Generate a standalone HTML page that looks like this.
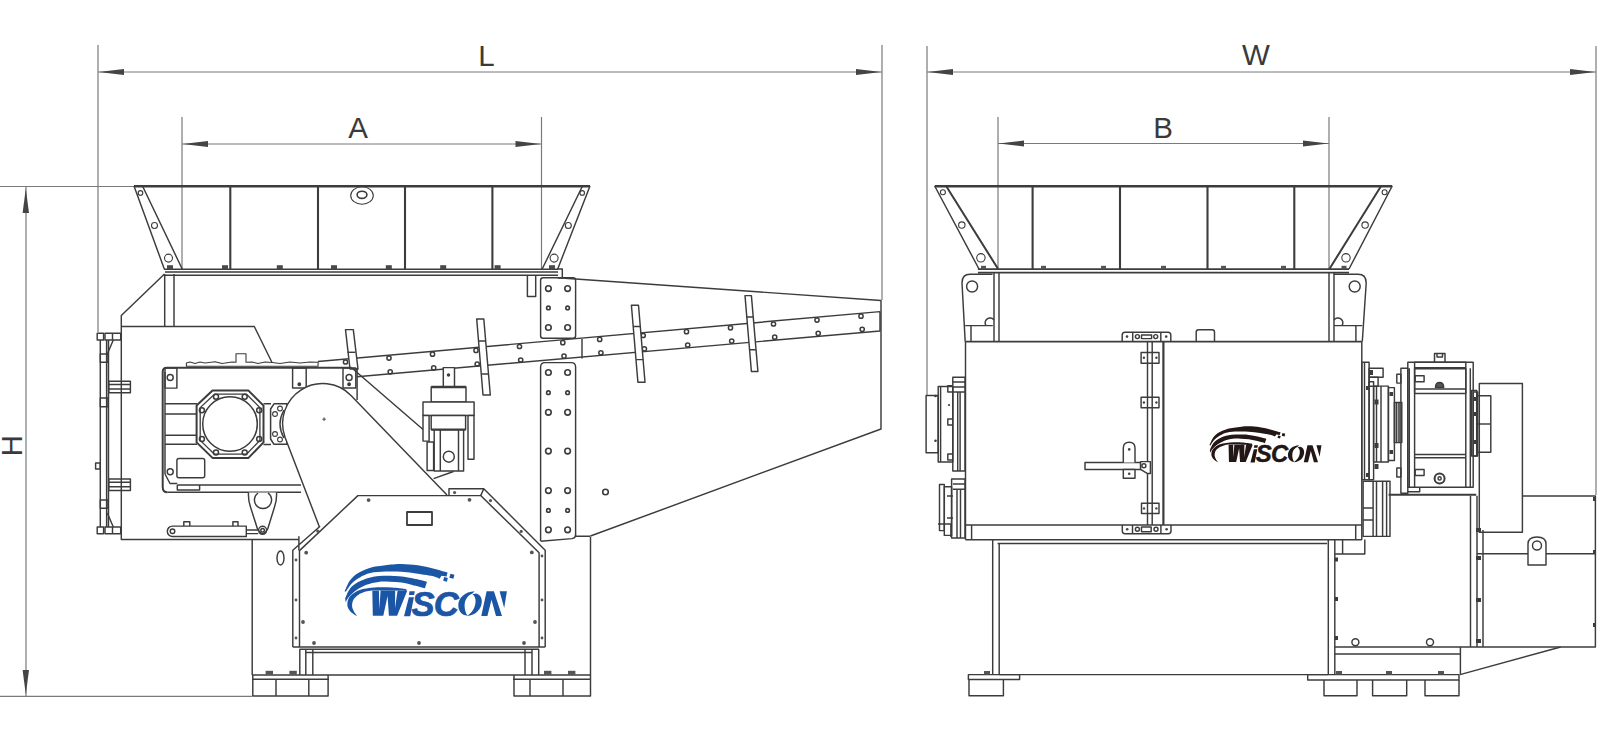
<!DOCTYPE html>
<html><head><meta charset="utf-8"><style>
html,body{margin:0;padding:0;background:#fff;width:1600px;height:740px;overflow:hidden}
svg{display:block}
text{font-family:"Liberation Sans",sans-serif}
</style></head><body>
<svg width="1600" height="740" viewBox="0 0 1600 740">
<defs>
<g id="logo">
<path d="M344.6 591.5C345.5 589.6 347.8 583.4 350.1 580.3C352.4 577.2 354.8 575.1 358.2 573.0C361.6 570.9 366.8 568.9 370.4 567.7C374.0 566.6 376.6 566.6 380.0 566.1C383.4 565.6 387.2 564.9 390.8 564.5C394.4 564.1 397.1 563.8 401.6 563.9C406.1 564.0 412.4 564.5 417.8 565.3C423.2 566.1 429.0 567.6 434.0 568.8C439.0 570.0 445.3 572.0 447.6 572.6L446.5 576.5L441.5 575.8L439.5 578.8C438.6 578.4 437.6 577.2 434.0 576.4C430.4 575.5 423.2 574.5 417.8 573.7C412.4 572.9 407.0 572.2 401.6 571.8C396.2 571.4 390.6 571.3 385.4 571.5C380.2 571.7 374.7 572.0 370.4 573.0C366.1 574.0 362.9 575.6 359.8 577.4C356.7 579.1 354.0 581.1 351.7 583.5C349.4 585.9 346.9 590.2 346.0 591.6Z"/>
<path d="M345.2 598.1C346.0 596.5 347.9 591.1 350.1 588.4C352.3 585.7 354.8 583.7 358.2 581.9C361.6 580.1 366.3 578.4 370.4 577.4C374.5 576.4 378.7 576.0 382.6 575.8C386.5 575.5 390.8 575.8 394.0 575.9C397.2 576.0 398.5 576.0 401.6 576.4C404.7 576.8 408.2 577.4 412.4 578.3C416.6 579.2 424.6 581.2 427.0 581.8L424.9 588.3C422.8 587.8 416.3 586.0 412.4 585.0C408.5 584.0 405.3 583.1 401.6 582.6C397.9 582.1 393.9 581.9 390.0 581.8C386.1 581.7 382.4 581.4 378.5 581.9C374.6 582.4 369.9 583.4 366.3 584.7C362.7 586.1 359.4 588.0 356.6 590.0C353.8 592.0 351.1 594.5 349.3 596.5C347.5 598.5 346.2 601.2 345.6 602.2Z"/>
<path d="M357.6 616.3C356.6 615.7 353.4 614.2 351.7 612.7C350.0 611.2 348.3 609.2 347.7 607.0C347.1 604.8 347.3 601.9 348.1 599.7C348.9 597.6 350.6 595.7 352.5 594.1C354.4 592.5 357.1 591.0 359.8 590.0C362.5 589.0 365.4 588.5 368.8 588.0C372.2 587.5 376.1 587.3 380.0 587.2C383.9 587.1 387.6 587.2 392.0 587.5C396.4 587.8 404.1 588.9 406.5 589.2L406 591C403.7 590.9 396.3 590.7 392.0 590.6C387.7 590.5 383.3 590.4 380.0 590.4C376.7 590.4 374.4 590.2 372.0 590.4C369.6 590.6 367.8 590.9 365.5 591.6C363.2 592.4 360.2 593.5 358.2 594.9C356.2 596.2 354.4 597.8 353.4 599.7C352.4 601.6 352.0 604.2 352.1 606.2C352.2 608.2 353.3 610.2 354.2 611.9C355.1 613.6 357.0 615.6 357.6 616.3Z"/>
<rect x="443.6" y="577.5" width="3.8" height="3.7" transform="rotate(15 445.5 579.3)"/><rect x="449.8" y="574.2" width="4.2" height="4.2" transform="rotate(15 451.9 576.3)"/>
<path d="M372.3 590.5H378.9L379.4 609.3L380.6 590.5H395.2L395 608.3L397.6 590.5H407.3L397.1 615.8H388.9L387.6 595.9L383.3 615.8H372.8Z"/>
<path d="M409.6 591.2H414.8L414.1 595H408.9ZM408.9 597.3H413.9L410.2 616.2H404Z"/>
<text x="411.6 433.8" y="616" font-size="34.6" font-weight="bold" font-style="italic" stroke-width="0.7">SC</text>
<path d="M474.5 591.2C465 591.5 458.2 598 458.3 605.5C458.4 611 461.5 615 467.5 615.8C465.6 613 464.4 609 464.6 605C464.8 600 467.5 595.5 472.8 593.3Z"/>
<path d="M476.3 593.4C480 594.5 482 597.5 481.8 601.8C481.5 609 476 615.5 466.8 616C470 614 474.2 610.5 475.4 603.5C476.2 598.5 474.5 595.5 472.2 594.2Z"/>
<path d="M481.3 616L486.6 591.2H493.9L502 616H496L491.5 599.8L487.4 616ZM499.6 591.2H506.9L504.2 607.9Z"/>
</g>
</defs>
<rect width="1600" height="740" fill="#fff"/>
<!-- DIMENSIONS -->
<g id="dims" stroke="#7a7a7a" stroke-width="1.2" fill="none">
<path d="M98 45V332M882 45V300M98 72H882"/>
<path d="M182 117V269M541.5 117V269M182 144H541.5"/>
<path d="M0 186.5H134M26 186V696.3M0 696.3H252"/>
<path d="M927 46V395.5M1596 46V495M927 72H1596"/>
<path d="M998 117V270M1329 117V270M998 143.5H1329"/>
</g>
<g id="arrows" fill="#444">
<path d="M98.5 72L124 69V75Z"/><path d="M881.5 72L856 69V75Z"/>
<path d="M182.5 144L208 141V147Z"/><path d="M541 144L515.5 141V147Z"/>
<path d="M25.8 188.5L22.6 213H29Z"/><path d="M25.8 694.5L22.6 670H29Z"/>
<path d="M927.5 72L953 69V75Z"/><path d="M1595.5 72L1570 69V75Z"/>
<path d="M998.5 143.5L1024 140.5V146.5Z"/><path d="M1328.5 143.5L1303 140.5V146.5Z"/>
</g>
<g id="labels" fill="#3a3a3a" font-size="29.5">
<text x="486.5" y="65.6" text-anchor="middle">L</text>
<text x="358" y="137.6" text-anchor="middle">A</text>
<text x="1256" y="64.8" text-anchor="middle">W</text>
<text x="1163" y="137.6" text-anchor="middle">B</text>
<text transform="translate(22 445.8) rotate(-90)" text-anchor="middle">H</text>
</g>

<!-- LEFT MACHINE -->
<g id="left" stroke="#3c3c3c" stroke-width="1.45" fill="none" stroke-linejoin="round">
<!-- hopper -->
<path d="M134 186.3H590" stroke-width="2.4"/>
<path d="M134 186L164.3 269M142.5 186L182.2 269M590 186L557.7 269M582.5 186L542.2 269"/>
<path d="M230.3 186V269M318 186V269M405 186V269M492.4 186V269" stroke-width="2.1"/>
<path d="M164 269.2H558M165 272H558M165 275.3H558" stroke-width="1.5"/>
<path d="M557.7 269H562.3V278H557.7"/>
<g stroke-width="1.1"><circle cx="140.5" cy="192.9" r="2.3"/><circle cx="154.5" cy="225.5" r="3"/><circle cx="168.5" cy="258.1" r="4"/>
<circle cx="582.2" cy="192.9" r="2.3"/><circle cx="568.3" cy="225.5" r="3"/><circle cx="554.1" cy="258.1" r="4"/>
<ellipse cx="362" cy="195.5" rx="11.3" ry="8.7"/><ellipse cx="362" cy="194.8" rx="4.9" ry="3.6" stroke-width="1.6"/></g>
<g fill="#4a4a4a" stroke="none"><rect x="167.0" y="265.2" width="6" height="4"/><rect x="222.0" y="265.2" width="6" height="4"/><rect x="276.8" y="265.2" width="6" height="4"/><rect x="331.0" y="265.2" width="6" height="4"/><rect x="385.8" y="265.2" width="6" height="4"/><rect x="440.2" y="265.2" width="6" height="4"/><rect x="494.6" y="265.2" width="6" height="4"/><rect x="549.0" y="265.2" width="6" height="4"/></g>
<!-- body outline -->
<path d="M164.5 274L121.3 315.5V539.5H298.5"/>
<path d="M164.7 274V326.5M174 274V326.5M121.3 326.5H254.3L272 362.5"/>
<path d="M527.4 275V296.4H535.7V275"/>
<path d="M561.5 278L881 300.5V429L590.5 536"/>
<!-- bolt plates -->
<rect x="540.6" y="277.8" width="35" height="60.5" rx="2.5"/>
<path d="M540.6 541V367Q540.6 362.6 545 362.6H571.2Q575.6 362.6 575.6 367V535"/>
<g stroke-width="1.6">
<circle cx="548.4" cy="288.6" r="2.8"/><circle cx="567.6" cy="288.6" r="2.8"/><circle cx="548.4" cy="307.9" r="1.8"/><circle cx="567.6" cy="307.9" r="1.8"/><circle cx="548.4" cy="327.5" r="2.8"/><circle cx="567.6" cy="327.5" r="2.8"/>
<circle cx="548.4" cy="372.5" r="2.8"/><circle cx="567.6" cy="372.5" r="2.8"/><circle cx="548.4" cy="392.7" r="1.8"/><circle cx="567.6" cy="392.7" r="1.8"/><circle cx="548.4" cy="412.3" r="2.8"/><circle cx="567.6" cy="412.3" r="2.8"/>
<circle cx="548.4" cy="451.1" r="2.8"/><circle cx="567.6" cy="451.1" r="2.8"/>
<circle cx="548.4" cy="490.6" r="2.8"/><circle cx="567.6" cy="490.6" r="2.8"/><circle cx="548.4" cy="510.4" r="1.8"/><circle cx="567.6" cy="510.4" r="1.8"/><circle cx="548.4" cy="529.8" r="2.8"/><circle cx="567.6" cy="529.8" r="2.8"/>
<circle cx="605.5" cy="492" r="2.8"/>
</g>
<path d="M540.6 541.2L572 538.6Q575.6 538.2 575.6 534.5M575.6 536.2H590.5"/>
<!-- beam -->
<path d="M318 361.5L880 311.6M357 376.7L880 331V311.6"/>
<g stroke-width="1.5"><circle cx="345.5" cy="362.0" r="2.1"/><circle cx="389.0" cy="358.1" r="2.1"/><circle cx="390.2" cy="371.8" r="2.1"/><circle cx="432.5" cy="354.2" r="2.1"/><circle cx="433.7" cy="367.9" r="2.1"/><circle cx="476.0" cy="350.4" r="2.1"/><circle cx="477.2" cy="364.0" r="2.1"/><circle cx="519.5" cy="346.5" r="2.1"/><circle cx="520.7" cy="360.0" r="2.1"/><circle cx="562.8" cy="342.7" r="2.1"/><circle cx="564.0" cy="356.1" r="2.1"/><circle cx="599.7" cy="339.4" r="2.1"/><circle cx="600.9" cy="352.8" r="2.1"/><circle cx="643.2" cy="335.5" r="2.1"/><circle cx="644.4" cy="348.9" r="2.1"/><circle cx="686.5" cy="331.7" r="2.1"/><circle cx="687.7" cy="345.0" r="2.1"/><circle cx="730.5" cy="327.8" r="2.1"/><circle cx="731.7" cy="341.1" r="2.1"/><circle cx="773.5" cy="324.0" r="2.1"/><circle cx="774.7" cy="337.2" r="2.1"/><circle cx="817.0" cy="320.1" r="2.1"/><circle cx="818.2" cy="333.3" r="2.1"/><circle cx="861.0" cy="316.2" r="2.1"/><circle cx="862.2" cy="329.3" r="2.1"/></g>
<path d="M582 339V358.5"/>
<!-- paddles -->
<path d="M345.5 329.6H353.3L358 369H350Z" fill="#fff"/><path d="M347.5 352.3H355.3"/>
<path d="M476.7 319H483.8L490.3 395H483Z" fill="#fff"/><path d="M478.6 341H485.7M481.4 374H488.5"/>
<path d="M631.4 305.3H638.5L645 382.2H637.9Z" fill="#fff"/><path d="M633.4 326.5H640.5M636.2 359.6H643.3"/>
<path d="M745 295.6H751.4L757.9 371.5H751.4Z" fill="#fff"/><path d="M746.7 317H753.1M749.4 349.7H755.8"/>

<!-- gearbox -->
<path d="M186.4 366.2V363L190 362L195 363.5L200 362L205 363L215 361.8L222 363.5L232 362L236 362.3V353.7H246V362.3L252 362L258 363.5L265 362L272 362.5L280 363.5L290 362L300 363L310 362L318.1 362.3V366.2Z" stroke-width="1.1"/>
<path d="M167.5 492.3Q162.7 492.3 162.7 487V372Q162.7 367.8 167 367.8H351.6" stroke-width="2"/>
<path d="M165 372V474M167.5 492.3H301M177.3 484.9H301"/>
<rect x="165" y="368" width="11.9" height="20.1"/><circle cx="170.2" cy="377.4" r="3"/>
<rect x="292.6" y="368" width="13.6" height="19.9"/><circle cx="299.3" cy="384.2" r="1.2" fill="#444"/>
<rect x="343" y="368" width="12.8" height="19.9"/><circle cx="349.1" cy="377.5" r="3"/><circle cx="349.1" cy="384.2" r="1.2" fill="#444"/>
<path d="M165 403.8H197M165 414H197M165 435.2H197M165 444.3H197"/>
<path d="M212.5 390.6H248.5L263.5 405.6V442.4L248.5 457.9H212.5L196.6 442.4V405.6Z" stroke-width="2"/>
<path d="M214.5 394.2H246.5L259.9 407.6V440.4L246.5 454.2H214.5L200.2 440.4V407.6Z" stroke-width="1.3"/>
<circle cx="230" cy="424" r="27.3" stroke-width="1.5"/>
<g stroke-width="1.5"><circle cx="216" cy="396.7" r="2.5"/><circle cx="244.7" cy="396.7" r="2.5"/><circle cx="259.2" cy="410.3" r="2.5"/><circle cx="259.2" cy="439" r="2.5"/><circle cx="244.7" cy="452.5" r="2.5"/><circle cx="216" cy="452.5" r="2.5"/><circle cx="201.9" cy="439" r="2.5"/><circle cx="201.9" cy="410.3" r="2.5"/></g><path d="M263.5 403.8H271M263.5 444.5H271"/>
<path d="M274 403.8H287V444.3H274L270.6 439V409Z" stroke-width="1.5"/>
<path d="M284 410Q276 424 284 438"/>
<g stroke-width="1.1"><circle cx="280" cy="408.5" r="2.4"/><circle cx="275" cy="414" r="2.4"/><circle cx="275" cy="434" r="2.4"/><circle cx="280" cy="439.5" r="2.4"/></g>
<rect x="176.9" y="458.5" width="27.8" height="19.3" rx="2"/><circle cx="170.2" cy="471.7" r="3"/>
<path d="M177.3 484.9V490H199.6V484.9"/>
<path d="M165 474L170 483.5H177.3"/>
<!-- lever & cylinder -->
<path d="M248.5 492.5Q248 500 250.5 507L257.5 529Q262.6 538 267.7 529L274.5 507Q277 500 276.5 492.5" fill="#fff"/>
<path d="M258 493A8.6 8.6 0 1 0 268 493"/><circle cx="262.6" cy="530.3" r="4"/><circle cx="262.6" cy="530.3" r="1.8"/>
<path d="M177.9 526.1H246.3V536.5H177.9M246.3 530H258.2M246.3 533.6H258.2"/>
<path d="M177.9 526.1H172.5A5.2 5.2 0 0 0 172.5 536.5H177.9"/><circle cx="172.5" cy="531.2" r="2.3"/>
<path d="M183.8 526V521.7H189.8V526M232.9 526V521.7H238V526"/>
<!-- frame diagonal -->
<path d="M351.6 367.8L427.1 433M357.1 368V400"/>
<!-- pump -->
<g fill="#fff">
<path d="M443.3 387V367.6H454.5V387"/>
<rect x="431.2" y="387" width="34.8" height="15"/>
<rect x="423" y="402" width="51.1" height="13.4"/>
<rect x="431.2" y="415.4" width="34.4" height="14.2"/>
<rect x="423" y="415.4" width="6.1" height="25.7"/>
<rect x="468" y="415.4" width="6" height="43.9"/>
<rect x="434.2" y="429.6" width="29.4" height="41.3"/>
<rect x="427.1" y="442" width="6.5" height="28.5"/>
</g>
<path d="M431.2 387H466M431.2 429.6H465.6" stroke-width="2.4"/>
<path d="M440.3 429.6V470.9M458.5 429.6V470.9M433.6 478.6L453.5 471.5"/>
<circle cx="448.8" cy="456.7" r="5.5"/>
<circle cx="448.5" cy="375" r="1" fill="#444"/>

<!-- arm -->
<path d="M320.1 528.7L285 437.2A40 40 0 0 1 351 395.4L447 495L357.9 495.6Z" fill="#fff" stroke="none"/>
<path d="M320.1 528.7L285 437.2A40 40 0 0 1 351 395.4L447 495"/>
<path d="M322.3 419.2h3.6M324.1 417.4v3.6" stroke-width="0.9"/>
<!-- cover -->
<path d="M292.8 647V550.3L320.1 526.2L357.9 495.6H449V488.8H483.8L545.2 550.2V647Z" fill="#fff" stroke="none"/>
<path d="M299.5 647V550.6L357.9 495.6H480.7L539.1 552.7V647"/>
<path d="M292.8 647V550.3L320.1 526.2M298.9 536.2V550.6"/>
<path d="M449 495.6V488.8H483.8L545.2 550.2V647M480.7 495.6L483.8 488.8"/>
<path d="M292.8 647H545.2M299.5 649.3H539"/>
<rect x="407" y="512" width="25" height="13" stroke-width="1.8"/>
<g fill="#555" stroke="none">
<circle cx="368.6" cy="500.1" r="1.9"/><circle cx="469.5" cy="499.8" r="1.9"/><circle cx="454.6" cy="492.5" r="1.6"/><circle cx="490.5" cy="500.6" r="1.6"/><circle cx="521.2" cy="531.4" r="1.6"/><circle cx="531.8" cy="552.4" r="1.9"/>
<circle cx="306.2" cy="552.7" r="1.9"/><circle cx="317.7" cy="531.1" r="1.6"/>
<circle cx="296" cy="560" r="1.4"/><circle cx="296" cy="600" r="1.4"/><circle cx="296" cy="638" r="1.4"/>
<circle cx="303" cy="622" r="1.9"/><circle cx="314" cy="643" r="1.9"/><circle cx="419" cy="643" r="1.9"/><circle cx="524" cy="643" r="1.9"/><circle cx="535" cy="622" r="1.9"/>
<circle cx="542" cy="556" r="1.4"/><circle cx="542" cy="600" r="1.4"/><circle cx="542" cy="638" r="1.4"/>
</g>
<!-- base left machine -->
<path d="M252.2 539.5V675M590.5 537V675"/>
<ellipse cx="280.5" cy="558" rx="3.5" ry="7"/>
<path d="M299.8 649.3V675M305.8 649.3V675M312.8 649.3V675M525 649.3V675M532 649.3V675M538.7 649.3V675"/>
<path d="M305.8 652.4H532"/>
<path d="M252.2 675H590.5M252.2 679.2H329M513 679.2H590.5"/>
<path d="M252.8 675V696H328.1V675M276 679.2V696M308.8 679.2V696"/>
<path d="M514 675V696H590.5V675M530 679.2V696M563 679.2V696"/>
<g fill="#555" stroke="none"><rect x="265.6" y="670.8" width="7.4" height="4"/><rect x="289.4" y="670.8" width="7.4" height="4"/><rect x="544" y="670.8" width="7.4" height="4"/><rect x="568" y="670.8" width="7.4" height="4"/></g>
<!-- door frame left -->
<path d="M100.3 340V527M106.6 340V527M108.5 340V527"/>
<rect x="97.2" y="333.2" width="6.4" height="6.7"/><rect x="105" y="333.2" width="15.7" height="6.7"/><path d="M112.5 333.2V339.9M113.3 340L107.3 354"/>
<rect x="100.3" y="354" width="7.7" height="8.2"/><rect x="100.3" y="397.9" width="7.7" height="8.9"/>
<rect x="108.8" y="381.2" width="21.6" height="11.5"/><path d="M108.8 384.5H130.4M108.8 389H130.4"/>
<rect x="108.8" y="479" width="21.6" height="11.5"/><path d="M108.8 482.3H130.4M108.8 486.8H130.4"/>
<rect x="100.3" y="500" width="7.7" height="8.2"/><rect x="95.6" y="463" width="4.6" height="6"/>
<rect x="97.2" y="527" width="6.4" height="6.7"/><rect x="105" y="527" width="15.7" height="6.7"/><path d="M112.5 527V533.7M113.3 527L107.3 513"/>
</g>

<use href="#logo" fill="#1b55a5" stroke="#1b55a5" stroke-width="0"/>
<use href="#logo" fill="#221714" stroke="#221714" stroke-width="0" transform="translate(971.7 37.2) scale(0.69)"/>
<!-- RIGHT MACHINE -->
<g id="right" stroke="#3c3c3c" stroke-width="1.45" fill="none" stroke-linejoin="round">
<!-- hopper -->
<path d="M934.7 186.2H1392.2" stroke-width="2.4"/>
<path d="M934.7 186L979 269M1392.2 186L1349 269"/>
<path d="M946.1 186L998.1 269M1381.1 186L1329.4 269" stroke-width="2"/>
<path d="M1032.6 186V269M1120 186V269M1207.5 186V269M1294.3 186V269" stroke-width="2.1"/>
<path d="M977.9 269.2H1349" stroke-width="1.7"/>
<path d="M977.9 272.6H1349" stroke-width="1.9"/>
<g stroke-width="1.1"><circle cx="942.9" cy="192.2" r="2.5"/><circle cx="961.8" cy="225.1" r="3.2"/><circle cx="980.9" cy="257.8" r="4.2"/>
<circle cx="1384.6" cy="192.2" r="2.5"/><circle cx="1365.1" cy="225.1" r="3.2"/><circle cx="1346" cy="257.8" r="4.2"/></g>
<g fill="#555" stroke="none"><rect x="981" y="265.8" width="5" height="3.5"/><rect x="1041" y="265.8" width="5" height="3.5"/><rect x="1101" y="265.8" width="5" height="3.5"/><rect x="1161" y="265.8" width="5" height="3.5"/><rect x="1221" y="265.8" width="5" height="3.5"/><rect x="1281" y="265.8" width="5" height="3.5"/><rect x="1341.5" y="265.8" width="5" height="3.5"/></g>
<!-- body upper -->
<path d="M994 272.7V341.6M999 272.7V341.6M1329 272.7V341.6M1334 272.7V341.6"/>
<path d="M992.5 274.3H970Q962 274.3 962 283L965.2 341.6"/>
<circle cx="972.1" cy="286.5" r="5.5"/>
<path d="M965.2 325.6H992.8M971 325.6V341.6M986 325.6A4.5 4.5 0 0 1 994 320"/>
<path d="M1334 274.3H1358Q1366.2 274.3 1366.2 283L1362.3 341.6"/>
<circle cx="1354.7" cy="286.5" r="5.5"/>
<path d="M1334 325.6H1362.3M1355.9 325.6V341.6M1334 320A4.5 4.5 0 0 1 1342 325.6"/>
<!-- main box -->
<path d="M965.5 341.6H1361.8" stroke-width="1.8"/>
<path d="M965.5 341.6V539.7M1361.8 341.6V539.7M965.5 524.9H1361.8M965.5 539.7H1361.8M971.6 524.9V539.7M1355.7 524.9V539.7"/>
<path d="M997.6 543.5H1327.1"/>
<!-- door -->
<path d="M1147.5 341.6V524.9M1152.2 341.6V524.9"/>
<path d="M1163.4 341.6V524.9" stroke-width="2.2"/>
<path d="M1122.2 341.6V335Q1122.2 332.2 1125 332.2H1168Q1170.8 332.2 1170.8 335V341.6M1132.7 332.2V341.6M1160.8 332.2V341.6"/>
<rect x="1141.5" y="334.9" width="10.1" height="3.7"/><circle cx="1137.4" cy="336.6" r="2"/><circle cx="1155.7" cy="336.6" r="2"/>
<path d="M1122.3 524.9V531Q1122.3 533.7 1125 533.7H1168.3Q1171 533.7 1171 531V524.9M1132.5 524.9V533.7M1160.9 524.9V533.7"/>
<rect x="1141.5" y="527" width="9.7" height="4.8"/><circle cx="1137.4" cy="529.2" r="2"/><circle cx="1156" cy="529.2" r="2"/>
<rect x="1141.1" y="352.4" width="17.9" height="10.8"/><rect x="1141.1" y="397.3" width="17.9" height="10.5"/><rect x="1141.5" y="503.3" width="17.5" height="10.2"/>
<path d="M1196.2 341.6V332Q1196.2 329.7 1198.5 329.7H1212.2Q1214.5 329.7 1214.5 332V341.6"/>
<rect x="1085" y="462.4" width="55.6" height="7" fill="#fff"/>
<path d="M1123.3 462.4V448Q1123.3 442.2 1129.2 442.2Q1135 442.2 1135 448V462.4" fill="#fff"/>
<rect x="1123.3" y="469.4" width="11.7" height="8.9" fill="#fff"/>
<path d="M1140.6 461.6H1150.4V473.4H1147.1L1140.6 469.4Z" fill="#fff"/><circle cx="1143.9" cy="465.7" r="2"/>
<g fill="#444" stroke="none"><circle cx="1127" cy="336.6" r="1.3"/><circle cx="1166.2" cy="336.6" r="1.3"/><circle cx="1127.2" cy="529.2" r="1.3"/><circle cx="1166.6" cy="529.2" r="1.3"/>
<circle cx="1129.2" cy="449.4" r="1.3"/><circle cx="1129.2" cy="473.8" r="1.3"/>
<circle cx="1143.9" cy="357.8" r="1.2"/><circle cx="1156.4" cy="357.8" r="1.2"/><circle cx="1143.9" cy="402.5" r="1.2"/><circle cx="1156.4" cy="402.5" r="1.2"/><circle cx="1144" cy="508.4" r="1.2"/><circle cx="1156.4" cy="508.4" r="1.2"/></g>
<!-- left motors -->
<rect x="926.1" y="395.5" width="12.1" height="57.2" fill="#fff"/>
<rect x="938.2" y="386.5" width="14.6" height="75.5"/>
<rect x="952.8" y="377.3" width="12.2" height="93.7"/>
<path d="M957.7 392V471M960.1 392V471M952.8 382H965M952.8 387H965M952.8 392H965"/>
<path d="M940.6 386.5V462M952.2 385.6H947.8V392H952.2M952.2 419H947.8V425H952.2M952.2 454H947.8V460H952.2"/>
<g fill="#3c3c3c" stroke="none"><circle cx="935.5" cy="396" r="1.3"/><circle cx="935.5" cy="440.8" r="1.3"/><circle cx="949" cy="405" r="1.1"/></g>
<rect x="939.5" y="484.4" width="4.8" height="46.2"/>
<rect x="944.3" y="486.8" width="7.3" height="48.6"/>
<rect x="951.6" y="479" width="13.4" height="58.9"/>
<path d="M952.8 484H965M952.8 489.2H965M957 489.2V537.9M960.5 489.2V537.9M938 524H950.9V537M947 496H953M947 518H953"/>
<!-- right side mechanism -->
<rect x="1361.8" y="362.3" width="7.3" height="117.5"/>
<path d="M1364.5 362.3V479.8"/>
<rect x="1369.1" y="368.3" width="14" height="9"/><rect x="1369.1" y="377.3" width="9" height="9"/>
<rect x="1369.1" y="381.7" width="4.5" height="98.1"/>
<rect x="1373.6" y="386.1" width="14.8" height="75.9"/>
<path d="M1376.5 386.1V462M1381 386.1V462"/>
<rect x="1388.4" y="387.6" width="6" height="72.9"/>
<rect x="1394.4" y="402.5" width="7.4" height="40.1" fill="#888" fill-opacity="0.45"/>
<path d="M1396.5 402.5V442.6M1399 402.5V442.6"/>
<g fill="#3c3c3c" stroke="none">
<rect x="1374.5" y="399.5" width="4" height="5"/><rect x="1374.5" y="443" width="4" height="5"/><rect x="1369.5" y="370" width="3.5" height="5"/><rect x="1374.5" y="464" width="4" height="5"/>
<rect x="1389.5" y="392" width="3.5" height="4"/><rect x="1389.5" y="450" width="3.5" height="4"/>
<rect x="1474" y="397" width="3" height="4"/><rect x="1474" y="412" width="3" height="4"/><rect x="1474" y="440" width="3" height="4"/>
<rect x="1366" y="473" width="3" height="4"/><rect x="1366" y="386" width="3" height="4"/>
</g>
<rect x="1400.9" y="368.3" width="6.9" height="124.9"/>
<rect x="1396.8" y="374.2" width="4.1" height="8.9"/><rect x="1396.8" y="468" width="4.1" height="8.9"/>
<rect x="1407.8" y="362.3" width="65.4" height="125"/>
<path d="M1409.3 368.3V487.3M1414.6 368.3V487.3M1465.8 368.3V487.3M1470.3 368.3V487.3"/>
<rect x="1414.6" y="362.3" width="51.2" height="31.3"/>
<path d="M1414.6 368.3H1465.8" stroke-width="2.6"/>
<path d="M1434.5 362.3V353.4H1445V362.3M1437 353.4V357H1442.5V353.4"/>
<path d="M1414.6 389H1465.8M1414.6 454.5H1465.8M1414.6 457.8H1465.8"/>
<rect x="1415.2" y="375.7" width="8.9" height="6"/><rect x="1415.2" y="469.4" width="8.9" height="6"/>
<path d="M1435.5 387.5Q1435.5 382.5 1439.6 382.5Q1443.7 382.5 1443.7 387.5Z" fill="#555"/>
<circle cx="1439.6" cy="478.4" r="5" stroke-width="2"/><circle cx="1439.6" cy="478.4" r="1.6"/>
<rect x="1473.2" y="392" width="4.5" height="64"/>
<path d="M1407.8 491.7H1419.7V487.3"/>
<rect x="1363.1" y="481.3" width="26.9" height="55.1"/>
<path d="M1373.1 481.3V536.4M1376.5 481.3V536.4M1382.6 481.3V536.4M1386.6 481.3V536.4M1363.1 508H1373.1M1363.1 520H1373.1"/>
<path d="M1388.6 494.7H1476.2" stroke-width="2"/>
<!-- cabinet -->
<path d="M1334.8 539.5V674.6M1328.3 539.5V674.6M1334.8 554H1364.8V539.5M1342.6 539.5V554"/>
<path d="M1470.5 495.8V647M1477 495.8V647M1483 530V647"/>
<path d="M1334.8 647H1477M1334.8 654H1460.4M1460.4 647V674.6"/>
<g fill="#3c3c3c" stroke="none"><rect x="1335" y="557.5" width="3" height="4"/><rect x="1335" y="597" width="3" height="4"/><rect x="1335" y="636" width="3" height="4"/>
<rect x="1476" y="528" width="5" height="4"/><rect x="1476" y="556" width="5" height="4"/><rect x="1476" y="598" width="5" height="4"/><rect x="1476" y="639" width="5" height="4"/>
<rect x="1593" y="497" width="3" height="4"/><rect x="1593" y="550" width="3" height="4"/><rect x="1593" y="623" width="3" height="4"/></g>
<circle cx="1355.4" cy="642.2" r="3.5"/><circle cx="1430" cy="642.2" r="3.5"/>
<!-- motor -->
<rect x="1479.3" y="383.4" width="43.1" height="148.9"/>
<rect x="1476.7" y="395.7" width="14.1" height="56.5"/><path d="M1476.7 424H1490.8"/>
<rect x="1471.6" y="390.5" width="5.1" height="65.5"/>
<path d="M1522.4 495.9H1595.4V647H1477M1477 553.7H1595.4"/>
<path d="M1528 565V544Q1528 537 1537 537Q1546 537 1546 544V565Z" fill="#fff"/><circle cx="1537" cy="545.5" r="4.5"/>
<path d="M1460 674.6L1560.7 647"/>
<!-- base -->
<path d="M992.7 539.7V674.6M999.2 543.5V674.6M999.2 674.6H1328.3"/>
<path d="M968.4 674.6H1019.6V679.5H968.4ZM969 679.5V695.7H1003.4V679.5"/>
<path d="M1307.7 674.6H1459V680H1307.7Z"/>
<path d="M1324 680V695.7H1357V680M1372.6 680V695.7H1406.7V680M1425 680V695.7H1459V680"/>
<g fill="#555" stroke="none"><rect x="984" y="671" width="6" height="3.6"/><rect x="1336" y="671" width="6" height="3.6"/><rect x="1386" y="671" width="6" height="3.6"/><rect x="1438" y="671" width="6" height="3.6"/></g>
</g>
</svg>
</body></html>
